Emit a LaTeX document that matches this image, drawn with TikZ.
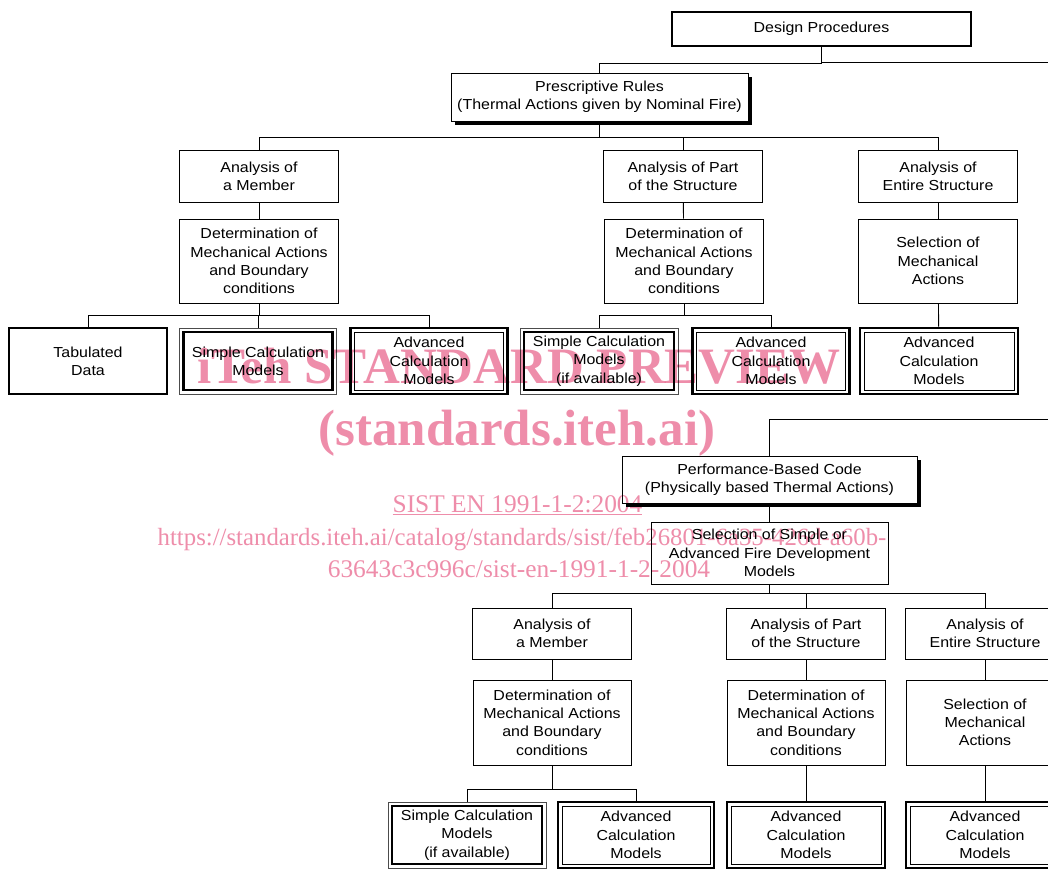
\documentclass[tikz,border=0pt]{standalone}
\usepackage{fontspec}
\setmainfont{Liberation Sans}[FakeStretch=1.1]
\newfontfamily\wmfont{Liberation Serif}
\usetikzlibrary{shadows}
\definecolor{wmpink}{RGB}{238,141,170}

\begin{document}
\begin{tikzpicture}[
		base/.style={draw, line width=0.9pt, fill=white, align=center, inner sep=0pt,
			minimum width=159pt, font=\fontsize{14.5}{18.3}\selectfont},
		shadowed/.style={base, drop shadow={shadow xshift=4pt, shadow yshift=-4pt,
			opacity=1, fill=black}},
		tabbox/.style={base, line width=2.6pt, minimum height=66pt},
		simbox/.style={base, line width=0.6pt, draw=black!70, minimum height=66pt,
			path picture={\draw[line width=2.4pt, black]
				([shift={(4pt,4pt)}]path picture bounding box.south west) rectangle
				([shift={(-4pt,-4pt)}]path picture bounding box.north east);}},
		advbox/.style={base, line width=2.6pt, minimum height=66pt,
			path picture={\draw[line width=0.7pt]
				([shift={(4pt,4pt)}]path picture bounding box.south west) rectangle
				([shift={(-4pt,-4pt)}]path picture bounding box.north east);}},
		link/.style={draw, line width=0.9pt},
		wm/.style={anchor=base, text=wmpink, inner sep=0pt},
		wmbig/.style={wm, font=\wmfont\bfseries\fontsize{51}{51}\selectfont},
		wmsmall/.style={wm, font=\wmfont\fontsize{25.4}{26}\selectfont}
	]

	\useasboundingbox (0pt,0pt) rectangle (1048pt,-869pt);
	\clip (0pt,0pt) rectangle (1048pt,-869pt);

	\node[base, line width=2.6pt, minimum width=299pt, minimum height=34pt] at (821.5pt, -29pt) (design) {Design Procedures};
	\node[shadowed, minimum width=297pt, minimum height=48pt] at (599.5pt, -97pt) (prescr)
		{Prescriptive Rules\\(Thermal Actions given by Nominal Fire)};
	\coordinate (contA) at (1048pt, -62pt);
	\draw[link] (design.south) -- ++(0,-16pt) -| (prescr.north);
	\draw[link] (design.south) |- (contA);

	\node[base, minimum height=52pt] at (259pt, -176pt) (memA) {Analysis of\\a Member};
	\node[base, minimum height=52pt] at (683pt, -176pt) (partA) {Analysis of Part\\of the Structure};
	\node[base, minimum height=52pt] at (938pt, -176pt) (entA) {Analysis of\\Entire Structure};
	\node[base, minimum height=84pt] at (259pt, -261pt) (detA) {Determination of\\Mechanical Actions\\and Boundary\\conditions};
	\node[base, minimum height=84pt] at (684pt, -261pt) (detB) {Determination of\\Mechanical Actions\\and Boundary\\conditions};
	\node[base, minimum height=84pt] at (938pt, -261pt) (selA) {Selection of\\Mechanical\\Actions};

	\node[tabbox, minimum width=158pt] at (88pt, -361pt) (tab) {Tabulated\\Data};
	\node[simbox, minimum width=157pt] at (258pt, -361pt) (simA) {Simple Calculation\\Models};
	\node[advbox, minimum width=157pt] at (429pt, -361pt) (advA) {Advanced\\Calculation\\Models};
	\node[simbox, minimum width=158pt] at (599pt, -361pt) (simB) {Simple Calculation\\Models\\(if available)};
	\node[advbox, minimum width=157pt] at (771pt, -361pt) (advB) {Advanced\\Calculation\\Models};
	\node[advbox, minimum width=158pt] at (939pt, -361pt) (advC) {Advanced\\Calculation\\Models};

	\foreach \n in {memA,partA,entA}
		\draw[link] (prescr.south) -- ++(0,-16pt) -| (\n.north);
	\draw[link] (memA) -- (detA);
	\draw[link] (partA) -- (detB);
	\draw[link] (entA) -- (selA);
	\foreach \n in {tab,simA,advA}
		\draw[link] (detA.south) -- ++(0,-12pt) -| (\n.north);
	\foreach \n in {simB,advB}
		\draw[link] (detB.south) -- ++(0,-12pt) -| (\n.north);
	\draw[link] (selA) -- (advC);

	\coordinate (contB) at (1048pt, -419pt);
	\node[shadowed, minimum width=295pt, minimum height=47pt] at (769.5pt, -479.5pt) (perf)
		{Performance-Based Code\\(Physically based Thermal Actions)};
	\node[base, minimum width=237pt, minimum height=62pt] at (769.5pt, -553pt) (selF)
		{Selection of Simple or\\Advanced Fire Development\\Models};
	\draw[link] (contB) -| (perf.north);
	\draw[link] (perf) -- (selF);

	\node[base, minimum height=51pt] at (552pt, -633.5pt) (memB) {Analysis of\\a Member};
	\node[base, minimum height=51pt] at (806pt, -633.5pt) (partB) {Analysis of Part\\of the Structure};
	\node[base, minimum height=51pt] at (985pt, -633.5pt) (entB) {Analysis of\\Entire Structure};
	\node[base, minimum width=158pt, minimum height=85pt] at (552pt, -722.5pt) (detC) {Determination of\\Mechanical Actions\\and Boundary\\conditions};
	\node[base, minimum width=158pt, minimum height=85pt] at (806pt, -722.5pt) (detD) {Determination of\\Mechanical Actions\\and Boundary\\conditions};
	\node[base, minimum width=158pt, minimum height=85pt] at (985pt, -722.5pt) (selB) {Selection of\\Mechanical\\Actions};

	\node[simbox, minimum width=158pt] at (467pt, -835pt) (simC) {Simple Calculation\\Models\\(if available)};
	\node[advbox, minimum width=156pt] at (636pt, -835pt) (advD) {Advanced\\Calculation\\Models};
	\node[advbox, minimum width=158pt] at (806pt, -835pt) (advE) {Advanced\\Calculation\\Models};
	\node[advbox, minimum width=158pt] at (985pt, -835pt) (advF) {Advanced\\Calculation\\Models};

	\foreach \n in {memB,partB,entB}
		\draw[link] (selF.south) -- ++(0,-9pt) -| (\n.north);
	\draw[link] (memB) -- (detC);
	\draw[link] (partB) -- (detD);
	\draw[link] (entB) -- (selB);
	\foreach \n in {simC,advD}
		\draw[link] (detC.south) -- ++(0,-24pt) -| (\n.north);
	\draw[link] (detD) -- (advE);
	\draw[link] (selB) -- (advF);

	\begin{scope}[blend mode=multiply]
		\node[wmbig] at (519pt, -383pt) (wmtitle) {iTeh STANDARD PREVIEW};
		\node[wmbig] at (517pt, -445pt) (wmsite) {(standards.iteh.ai)};
		\node[wmsmall] at (517.5pt, -512pt) (wmcode) {\underline{SIST EN 1991-1-2:2004}};
		\node[wmsmall, font=\wmfont\fontsize{24.8}{26}\selectfont] at (522pt, -545pt) (wmurl)
			{https://standards.iteh.ai/catalog/standards/sist/feb26801-6a35-426d-a60b-};
		\node[wmsmall] at (519pt, -577pt) (wmurlb) {63643c3c996c/sist-en-1991-1-2-2004};
	\end{scope}

\end{tikzpicture}
\end{document}
